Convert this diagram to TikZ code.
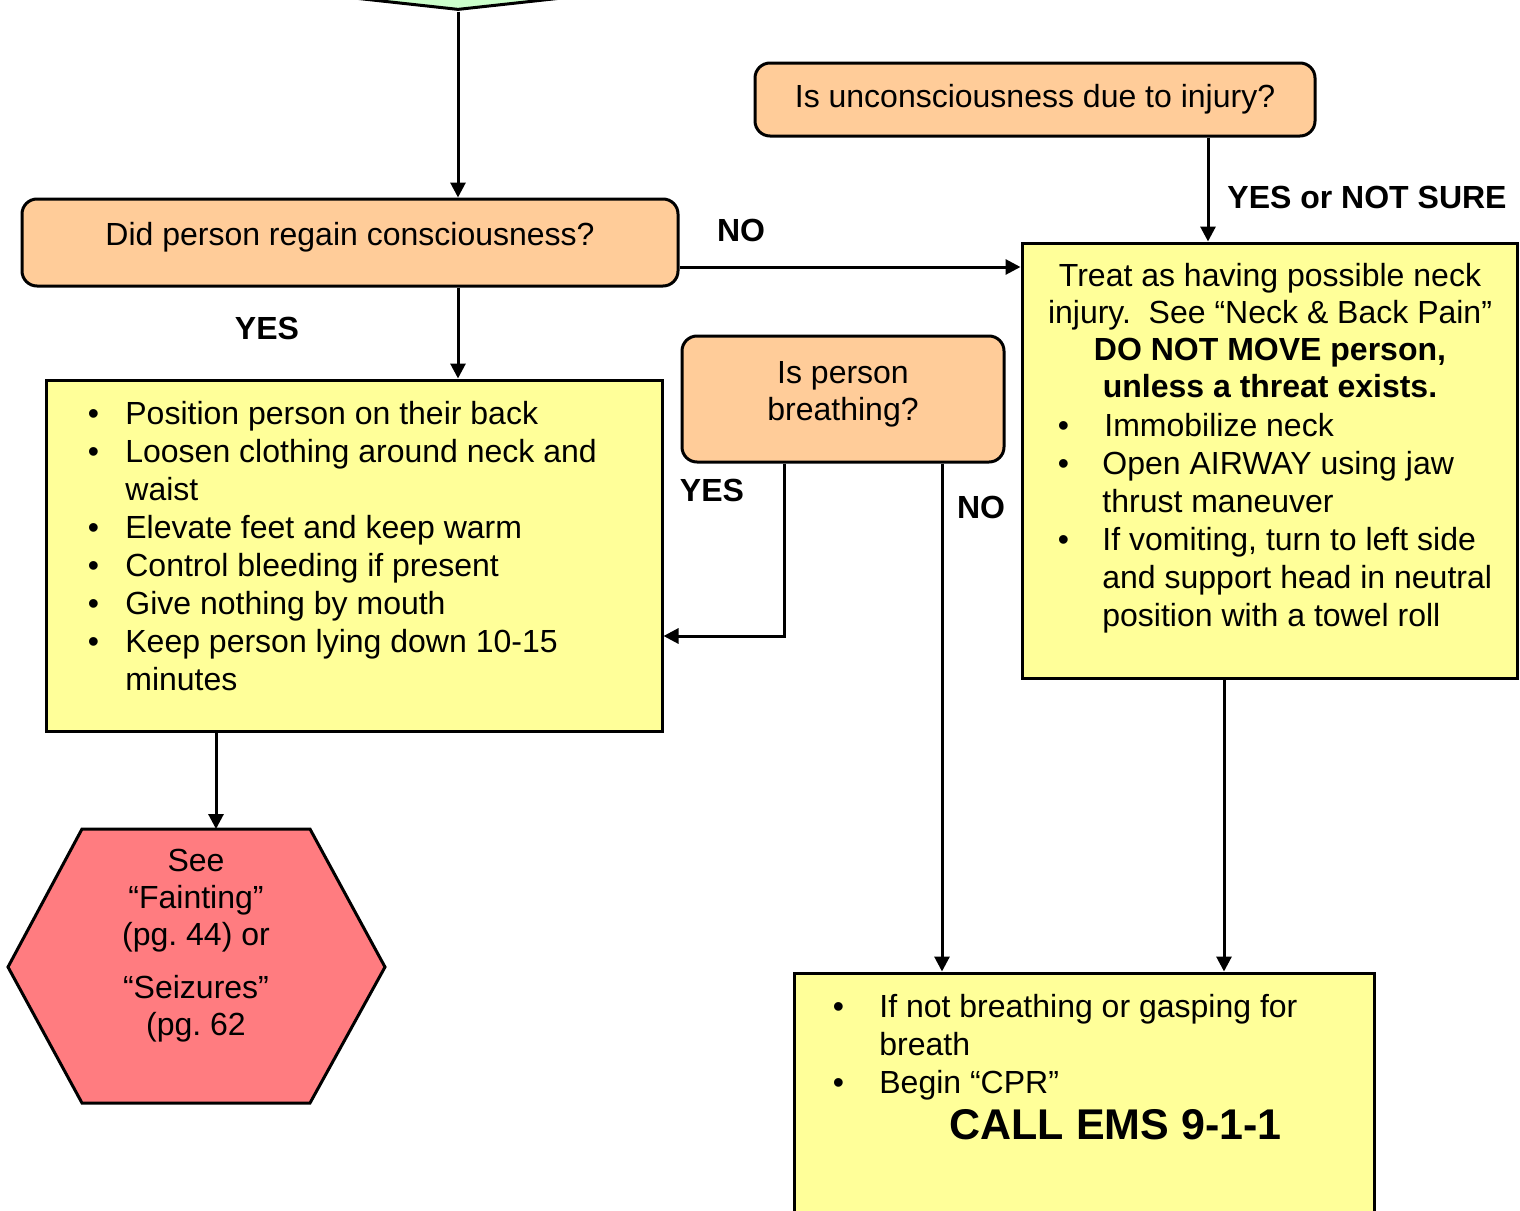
\documentclass[tikz,border=0pt]{standalone}
\usepackage{fontspec}
\setmainfont{Liberation Sans}
\usepackage{tikz}
\usetikzlibrary{arrows.meta, shapes, positioning}
\definecolor{peach}{HTML}{FFCC99}
\definecolor{paleyellow}{HTML}{FFFF99}
\definecolor{mint}{HTML}{CCFFCC}
\definecolor{salmon}{HTML}{FF7C80}

\begin{document}
\begin{tikzpicture}[
		x=0.5pt, y=-0.5pt,
		every node/.style={font=\fontsize{16}{18.5}\selectfont},
		ask/.style={rectangle, rounded corners=7.5pt, draw, line width=1.5pt, fill=peach, align=center, inner sep=0pt},
		panel/.style={rectangle, draw, line width=1.5pt, fill=paleyellow, inner sep=0pt},
		txt/.style={inner sep=0pt, align=center},
		bullets/.style={inner sep=0pt, anchor=north west, font=\fontsize{16}{19}\selectfont},
		lbl/.style={inner sep=0pt, font=\fontsize{16}{18.5}\selectfont\bfseries},
		arr/.style={-{Triangle[length=7.5pt, width=7.5pt]}, line width=1.5pt}
		]
	
		\useasboundingbox (0,0) rectangle (1520,1210);
		\clip (0,0) rectangle (1520,1210);
	
		% Questions
		\node[diamond, draw, line width=1.5pt, fill=mint, minimum width=360pt, minimum height=40pt, inner sep=0pt] (start) at (458,-30) {};
		\node[ask, minimum width=328pt, minimum height=43.5pt, text depth=9pt] (regain) at (350,242.5) {Did person regain consciousness?};
		\node[ask, minimum width=280pt, minimum height=36.5pt] (injury) at (1035,99.5) {Is unconsciousness due to injury?};
		\node[ask, minimum width=161pt, minimum height=63pt, text depth=7.7pt] (breath) at (843,399) {Is person\\breathing?};
	
		% Consignes
		\node[panel, minimum width=308pt, minimum height=175.5pt] (care) at (354,555.5) {};
		\node[bullets] (carelist) at (87.4,397) {%
			\begin{tabular}{@{}p{18.8pt}@{}l@{}}
				\textbullet & Position person on their back\\
				\textbullet & Loosen clothing around neck and\\
				& waist\\
				\textbullet & Elevate feet and keep warm\\
				\textbullet & Control bleeding if present\\
				\textbullet & Give nothing by mouth\\
				\textbullet & Keep person lying down 10-15\\
				& minutes
			\end{tabular}};
	
		\node[panel, minimum width=247.5pt, minimum height=217.5pt] (treat) at (1269.5,460.5) {};
		\node[txt, anchor=north] (treathead) at (1270,263) {Treat as having possible neck\\injury.\ \ See “Neck \& Back Pain”\\\textbf{DO NOT MOVE person,}\\\textbf{unless a threat exists.}};
		\node[bullets] (treatlist) at (1057.4,409) {%
			\begin{tabular}{@{}p{22.3pt}@{}l@{}}
				\textbullet & \hspace{1pt}Immobilize neck\\
				\textbullet & Open AIRWAY using jaw\\
				& thrust maneuver\\
				\textbullet & If vomiting, turn to left side\\
				& and support head in neutral\\
				& position with a towel roll
			\end{tabular}};
	
		\node[panel, minimum width=290pt, minimum height=138.5pt] (cpr) at (1084,1111.5) {};
		\node[bullets] (cprlist) at (832.4,990) {%
			\begin{tabular}{@{}p{23.3pt}@{}l@{}}
				\textbullet & If not breathing or gasping for\\
				& breath\\
				\textbullet & Begin “CPR”
			\end{tabular}};
		\node[inner sep=0pt, anchor=base, font=\fontsize{21.5}{24}\selectfont\bfseries] (callems) at (1115.5,1139.5) {CALL EMS 9-1-1};
	
		% Renvoi
		\draw[line width=1.5pt, fill=salmon] (82,829) -- (310,829) -- (385,967) -- (310,1103) -- (82,1103) -- (8,967) -- cycle;
		\coordinate (hextop) at (216,829);
		\node[txt, anchor=north] (seealso) at (196,848.5) {See\\“Fainting”\\(pg.\ 44) or\\[8pt]“Seizures”\\(pg.\ 62};
	
		% Etiquettes
		\node[lbl] (yesregain) at (267,328) {YES};
		\node[lbl] (noregain) at (741,230) {NO};
		\node[lbl] (yesinjury) at (1367,197) {YES or NOT SURE};
		\node[lbl] (yesbreath) at (712,490) {YES};
		\node[lbl] (nobreath) at (981,507) {NO};
	
		% Fleches
		\coordinate (noline) at (0,267);
		\coordinate (unsure) at (1208,0);
		\coordinate (yesdrop) at (784,0);
		\coordinate (yesturn) at (0,636);
		\coordinate (nodrop) at (942,0);
		\coordinate (neckdrop) at (1224,0);
	
		\draw[arr] (start.south) -- (start.south |- regain.north);
		\draw[arr] (regain.south -| start.south) -- (care.north -| start.south);
		\draw[arr] (regain.east |- noline) -- (treat.west |- noline);
		\draw[arr] (injury.south -| unsure) -- (treat.north -| unsure);
		\draw[arr] (breath.south -| yesdrop) |- (care.east |- yesturn);
		\draw[arr] (breath.south -| nodrop) -- (cpr.north -| nodrop);
		\draw[arr] (treat.south -| neckdrop) -- (cpr.north -| neckdrop);
		\draw[arr] (care.south -| hextop) -- (hextop);
	\end{tikzpicture}
\end{document}
